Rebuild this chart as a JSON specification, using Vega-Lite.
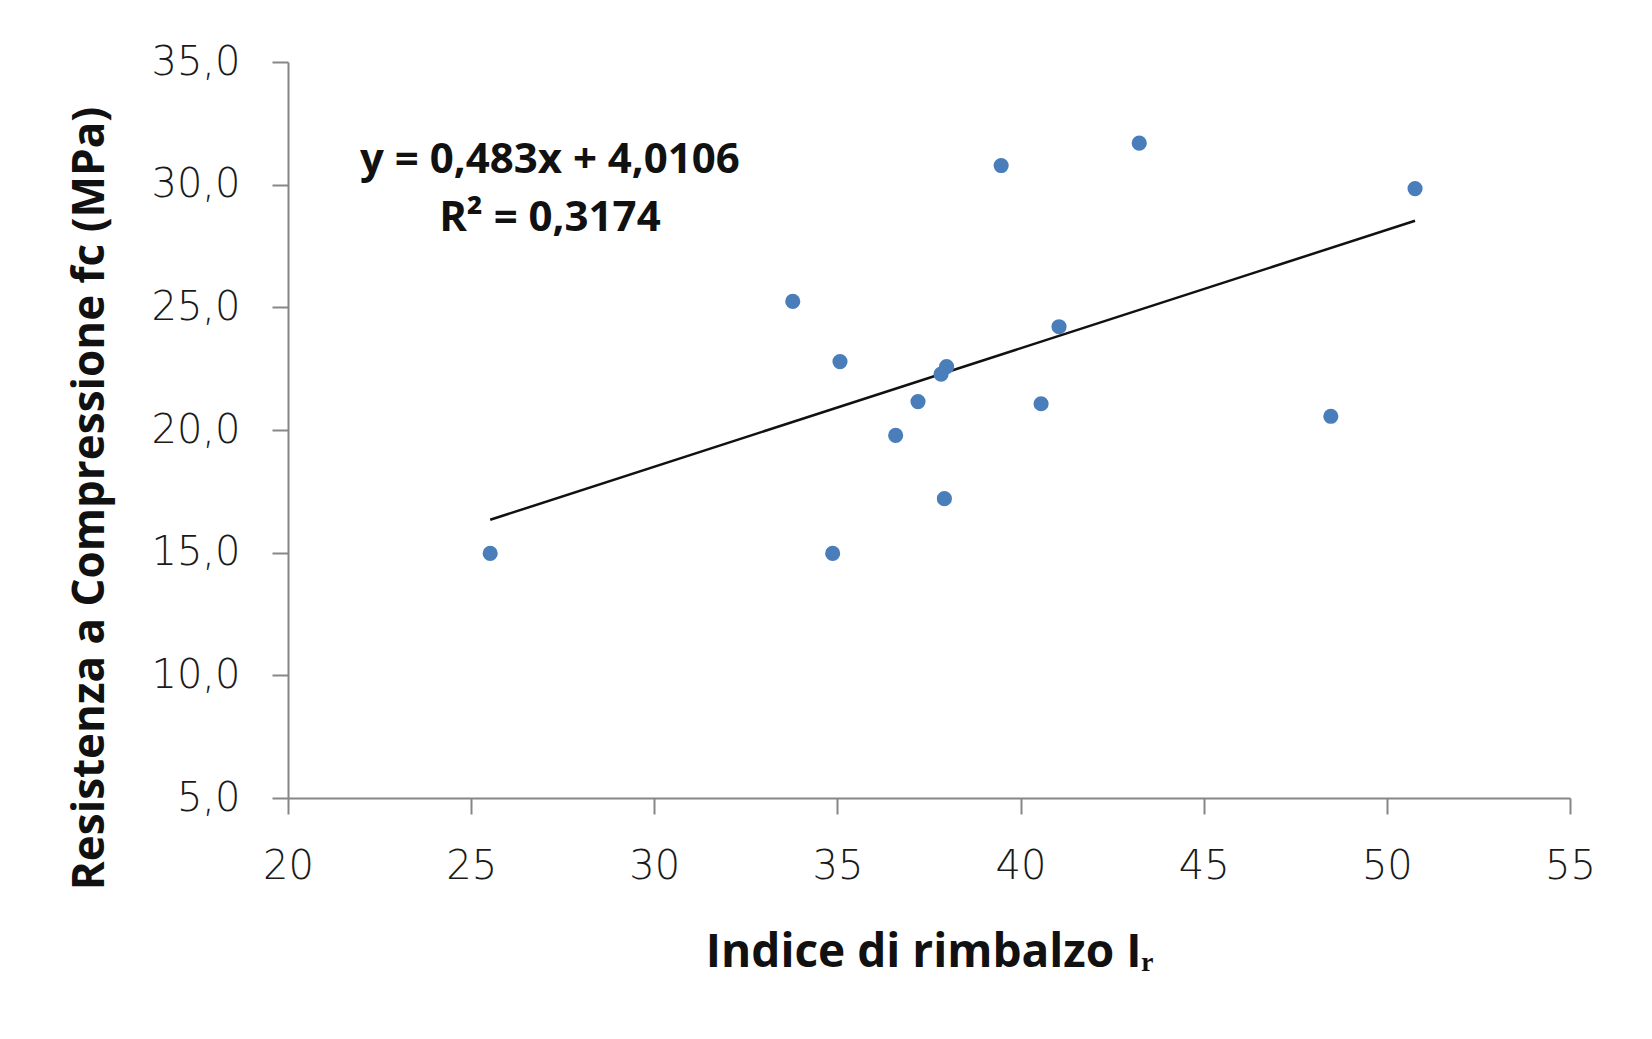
{
  "$schema": "https://vega.github.io/schema/vega-lite/v6.json",
  "width": 1282,
  "height": 736,
  "autosize": "none",
  "padding": {"left": 288, "top": 62, "right": 82, "bottom": 241},
  "background": "white",
  "config": {
    "view": {"stroke": null},
    "axis": {
      "grid": false,
      "domainColor": "#868686",
      "domainWidth": 2,
      "tickColor": "#868686",
      "tickWidth": 2,
      "tickSize": 16,
      "labelFlush": false,
      "labelFont": "DejaVu Sans",
      "labelFontSize": 40,
      "labelFontWeight": 200,
      "labelColor": "#1a1a1a",
      "titleFont": "Open Sans",
      "titleFontSize": 46,
      "titleFontWeight": "bold",
      "titleColor": "#111111"
    }
  },
  "datasets": {
    "points": [
      {"ir": 25.52, "fc": 14.97},
      {"ir": 33.78, "fc": 25.24},
      {"ir": 35.07, "fc": 22.79},
      {"ir": 34.87, "fc": 14.97},
      {"ir": 36.59, "fc": 19.78},
      {"ir": 37.2, "fc": 21.16},
      {"ir": 37.83, "fc": 22.28},
      {"ir": 37.98, "fc": 22.58},
      {"ir": 37.92, "fc": 17.2},
      {"ir": 39.47, "fc": 30.78},
      {"ir": 40.56, "fc": 21.07},
      {"ir": 41.05, "fc": 24.21},
      {"ir": 43.24, "fc": 31.69},
      {"ir": 48.47, "fc": 20.56},
      {"ir": 50.77, "fc": 29.84}
    ],
    "trend": [
      {"ir": 25.52, "fc": 16.34},
      {"ir": 50.77, "fc": 28.53}
    ],
    "label": [
      {"ir": 27.15, "fc": 31.0}
    ]
  },
  "layer": [
    {
      "data": {"name": "trend"},
      "mark": {"type": "line", "color": "#111111", "strokeWidth": 2.5},
      "encoding": {
        "x": {"field": "ir", "type": "quantitative"},
        "y": {"field": "fc", "type": "quantitative"}
      }
    },
    {
      "data": {"name": "points"},
      "mark": {"type": "circle", "size": 230, "color": "#4a7ebb", "opacity": 1},
      "encoding": {
        "x": {
          "field": "ir",
          "type": "quantitative",
          "scale": {"domain": [20, 55], "nice": false, "zero": false},
          "axis": {
            "title": "Indice di rimbalzo Iᵣ",
            "values": [20, 25, 30, 35, 40, 45, 50, 55],
            "labelBaseline": "alphabetic",
            "labelPadding": 64,
            "titleBaseline": "alphabetic",
            "titleY": 168
          }
        },
        "y": {
          "field": "fc",
          "type": "quantitative",
          "scale": {"domain": [5, 35], "nice": false, "zero": false},
          "axis": {
            "title": "Resistenza  a Compressione fc (MPa)",
            "values": [5, 10, 15, 20, 25, 30, 35],
            "labelExpr": "replace(format(datum.value, '.1f'), '.', ',')",
            "labelPadding": 32,
            "titleFontSize": 44,
            "titleAngle": -90,
            "titleBaseline": "alphabetic",
            "titleAlign": "center",
            "titleX": -185,
            "titleY": 436
          }
        }
      }
    },
    {
      "data": {"name": "label"},
      "mark": {
        "type": "text",
        "text": ["y = 0,483x + 4,0106", "R² = 0,3174"],
        "font": "Open Sans",
        "fontSize": 42,
        "fontWeight": "bold",
        "color": "#111111",
        "align": "center",
        "baseline": "middle",
        "lineHeight": 58
      },
      "encoding": {
        "x": {"field": "ir", "type": "quantitative"},
        "y": {"field": "fc", "type": "quantitative"}
      }
    }
  ]
}
